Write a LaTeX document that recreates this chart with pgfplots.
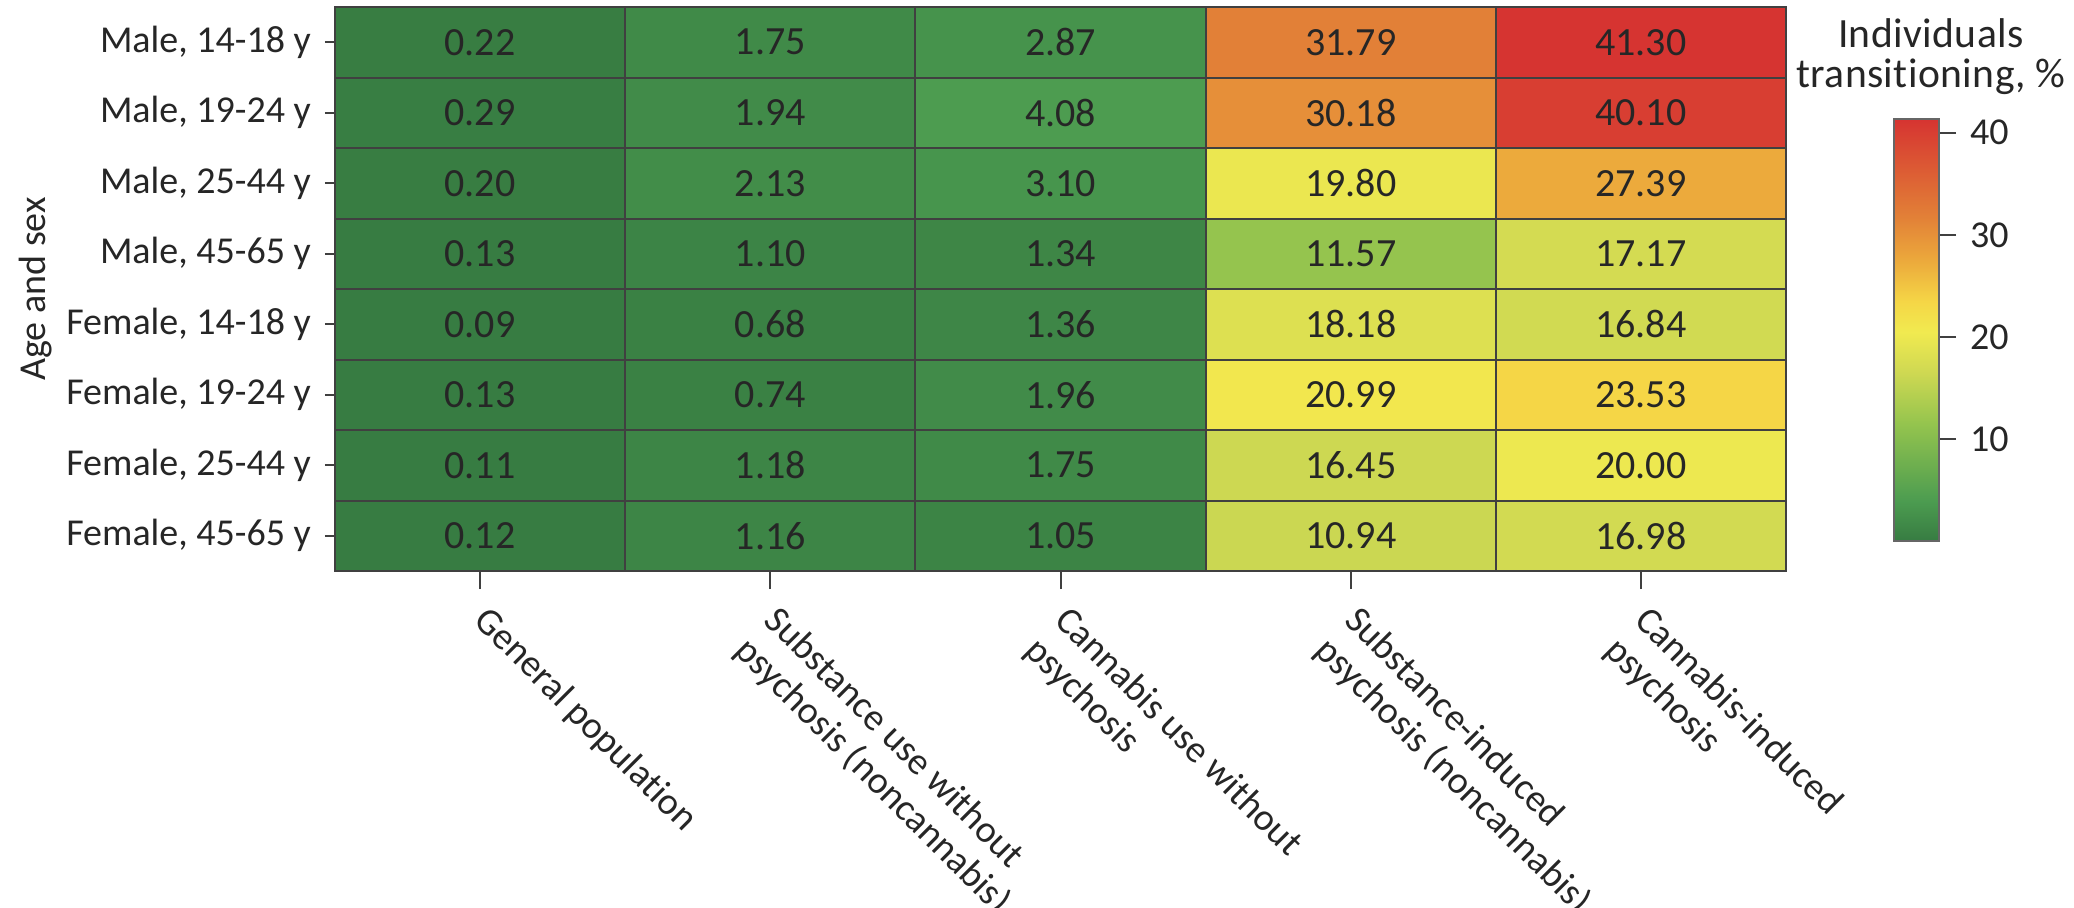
\documentclass[border=0pt]{standalone}
\usepackage{pgfplots}
\pgfplotsset{compat=1.18}
\usepackage{pgfplotstable}
\usepackage{fontspec}
\setmainfont{Carlito}[Ligatures=NoCommon]
\definecolor{txt}{RGB}{38,38,38}
\pgfplotsset{/pgf/number format/assume math mode=true}
\newcommand{\lblfont}{\fontsize{9.5}{10.5}\selectfont}
\newcommand{\cellfont}{\fontsize{10}{12}\selectfont}
\newcommand{\ttlfont}{\fontsize{10.4}{10}\selectfont\addfontfeatures{LetterSpace=1}}
\begin{document}
% x = column, y = row, z = printed value, c = value the cell's colour shows
\pgfplotstableread{
x y z c
0 0 0.22 0.22
1 0 1.75 1.75
2 0 2.87 2.87
3 0 31.79 31.79
4 0 41.30 41.30
0 1 0.29 0.29
1 1 1.94 1.94
2 1 4.08 4.08
3 1 30.18 30.18
4 1 40.10 40.10
0 2 0.20 0.20
1 2 2.13 2.13
2 2 3.10 3.10
3 2 19.80 19.80
4 2 27.39 27.39
0 3 0.13 0.13
1 3 1.10 1.10
2 3 1.34 1.34
3 3 11.57 11.57
4 3 17.17 17.17
0 4 0.09 0.09
1 4 0.68 0.68
2 4 1.36 1.36
3 4 18.18 18.18
4 4 16.84 16.84
0 5 0.13 0.13
1 5 0.74 0.74
2 5 1.96 1.96
3 5 20.99 20.99
4 5 23.53 23.53
0 6 0.11 0.11
1 6 1.18 1.18
2 6 1.75 1.75
3 6 16.45 16.45
4 6 20.00 20.00
0 7 0.12 0.12
1 7 1.16 1.16
2 7 1.05 1.05
3 7 10.94 16.20
4 7 16.98 16.98
}\datatable
\begin{tikzpicture}
\useasboundingbox (-83.75pt,-84.25pt) rectangle ++(518.5pt,227pt);
\begin{axis}[
  at={(0pt,0pt)}, anchor=south west,
  scale only axis, width=362.75pt, height=141pt,
  xmin=-0.5, xmax=4.5, ymin=-0.5, ymax=7.5,
  y dir=reverse,
  axis on top,
  axis line style={black!75, line width=0.5pt},
  xtick={0,...,4}, ytick={0,...,7},
  xticklabels={General population, Substance use without\\psychosis (noncannabis), Cannabis use without\\psychosis, Substance-induced\\psychosis (noncannabis), Cannabis-induced\\psychosis},
  yticklabels={{Male, 14-18 y},{Male, 19-24 y},{Male, 25-44 y},{Male, 45-65 y},{Female, 14-18 y},{Female, 19-24 y},{Female, 25-44 y},{Female, 45-65 y}},
  tick pos=left, tick align=outside,
  major tick length=2.5pt,
  xtick style={/pgfplots/major tick length=4.5pt},
  major tick style={black!75, line width=0.5pt},
  minor xtick={0.5,1.5,2.5,3.5}, minor ytick={0.5,1.5,...,6.5},
  minor tick length=0pt,
  xminorgrids, yminorgrids,
  minor grid style={black!75, line width=0.5pt},
  yticklabel style={font=\lblfont, text=txt},
  xticklabel style={font=\lblfont, text=txt, rotate=-45, anchor=north west, align=left, xshift=2.5pt, yshift=1.5pt},
  ylabel={Age and sex},
  ylabel style={font=\lblfont, text=txt},
  ylabel shift=-3.3pt,
  colormap={heat}{rgb255(0.9pt)=(55,124,66) rgb255(40pt)=(76,156,80) rgb255(115pt)=(148,196,78) rgb255(165pt)=(206,216,82) rgb255(205pt)=(241,234,80) rgb255(235pt)=(245,214,70) rgb255(274pt)=(236,170,60) rgb255(318pt)=(226,128,55) rgb255(413pt)=(214,52,49)},
  point meta min=0.09, point meta max=41.3,
  colorbar,
  colorbar shift/.style={},
  colorbar style={
    at={(parent axis.north east)}, anchor=north west,
    xshift=27pt, yshift=-28.08pt,
    scale only axis, width=11.25pt, height=105.35pt,
    ytick={10,20,30,40},
    ytick pos=right, yticklabel pos=right,
    tick align=outside, major tick length=4.25pt,
    major tick style={black!75, line width=0.5pt},
    axis line style={black!60, line width=0.5pt},
    yticklabel style={font=\lblfont, text=txt},
    title={Individuals\\transitioning, \%},
    every axis title/.style={at={(0.5,1)}, anchor=south, inner sep=0pt, yshift=6pt, xshift=3.6pt, align=center, font=\ttlfont, text=txt},
  },
]
\addplot[matrix plot*, point meta=explicit, mesh/cols=5, mesh/rows=8] table[meta=c] {\datatable};
\addplot[draw=none, mark=none, point meta=explicit symbolic, nodes near coords, nodes near coords style={anchor=center, font=\cellfont, text=txt}] table[meta=z] {\datatable};
\end{axis}
\end{tikzpicture}
\end{document}
